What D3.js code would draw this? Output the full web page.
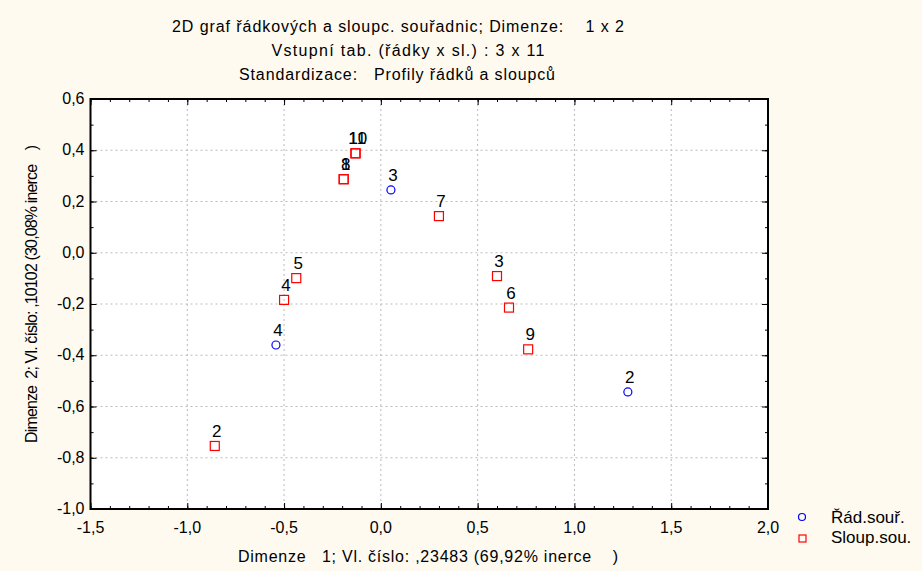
<!DOCTYPE html>
<html>
<head>
<meta charset="utf-8">
<script src="https://cdn.jsdelivr.net/npm/d3@7"></script>
<style>
  body { margin: 0; background: #fefaf0; }
  text { font-family: "Liberation Sans", Arial, sans-serif; }
</style>
</head>
<body>
<script>
// row coordinates (blue circles)
var rowLabels = ["2", "3", "4"];
var rowX = [1.276, 0.052, -0.542];
var rowY = [-0.543, 0.245, -0.360];

// column coordinates (red squares)
var colLabels = ["1", "2", "3", "4", "5", "6", "7", "8", "9", "10", "11"];
var colX = [-0.192, -0.858, 0.600, -0.500, -0.437, 0.662, 0.300, -0.192, 0.761, -0.130, -0.132];
var colY = [0.287, -0.754, -0.091, -0.184, -0.099, -0.214, 0.143, 0.287, -0.377, 0.388, 0.388];

var xTicks = [-1.5, -1.0, -0.5, 0.0, 0.5, 1.0, 1.5, 2.0];
var yTicks = [0.6, 0.4, 0.2, 0.0, -0.2, -0.4, -0.6, -0.8, -1.0];

var titleLines = [
  "2D graf řádkových a sloupc. souřadnic; Dimenze:    1 x 2",
  "Vstupní tab. (řádky x sl.) : 3 x 11",
  "Standardizace:   Profily řádků a sloupců"
];
var xTitle = "Dimenze   1; Vl. číslo: ,23483 (69,92% inerce    )";
var yTitle = "Dimenze  2; Vl. číslo: ,10102 (30,08% inerce    )";
var legendNames = ["Řád.souř.", "Sloup.sou."];

var width = 922, height = 571;
var mLeft = 90.5, mRight = 768, mTop = 99, mBottom = 509;

var svg = d3.select("body").append("svg")
  .attr("width", width)
  .attr("height", height);

var x = d3.scaleLinear().domain([-1.5, 2.0]).range([mLeft, mRight]);
var y = d3.scaleLinear().domain([-1.0, 0.6]).range([mBottom, mTop]);
var fmt = function(d) { return d3.format(".1f")(d).replace(".", ",").replace("−", "-"); };

// plot area
svg.append("rect")
  .attr("x", mLeft).attr("y", mTop)
  .attr("width", mRight - mLeft).attr("height", mBottom - mTop)
  .attr("fill", "#fff");

// grid
svg.append("g").selectAll("line")
  .data(xTicks.slice(1, -1))
  .enter().append("line")
  .attr("x1", function(d) { return x(d); }).attr("x2", function(d) { return x(d); })
  .attr("y1", mTop).attr("y2", mBottom)
  .attr("stroke", "#bbb").attr("stroke-dasharray", "2,3");
svg.append("g").selectAll("line")
  .data(yTicks.slice(1, -1))
  .enter().append("line")
  .attr("y1", function(d) { return y(d); }).attr("y2", function(d) { return y(d); })
  .attr("x1", mLeft).attr("x2", mRight)
  .attr("stroke", "#bbb").attr("stroke-dasharray", "2,3");

// axes with inside ticks
var xMinor = d3.range(-15, 21).map(function(i) { return i / 10; });
var yMinor = d3.range(-10, 7).map(function(i) { return i / 10; });

function tickAxis(axis, scale, vals, size, tr) {
  svg.append("g").attr("transform", tr)
    .call(axis(scale).tickValues(vals).tickSize(size).tickFormat(""))
    .call(function(g) { g.select(".domain").remove(); })
    .selectAll("line").attr("stroke", "#000");
}
tickAxis(d3.axisTop, x, xMinor, 3, "translate(0," + mBottom + ")");
tickAxis(d3.axisTop, x, xTicks, 6, "translate(0," + mBottom + ")");
tickAxis(d3.axisBottom, x, xMinor, 3, "translate(0," + mTop + ")");
tickAxis(d3.axisBottom, x, xTicks, 6, "translate(0," + mTop + ")");
tickAxis(d3.axisRight, y, yMinor, 3, "translate(" + mLeft + ",0)");
tickAxis(d3.axisRight, y, yTicks, 6, "translate(" + mLeft + ",0)");
tickAxis(d3.axisLeft, y, yMinor, 3, "translate(" + mRight + ",0)");
tickAxis(d3.axisLeft, y, yTicks, 6, "translate(" + mRight + ",0)");

// tick labels
svg.append("g").selectAll("text")
  .data(xTicks).enter().append("text")
  .attr("x", function(d) { return x(d); })
  .attr("y", mBottom + 24)
  .attr("text-anchor", "middle")
  .attr("font-size", 16)
  .text(fmt);
svg.append("g").selectAll("text")
  .data(yTicks).enter().append("text")
  .attr("x", mLeft - 6)
  .attr("y", function(d) { return y(d) + 5; })
  .attr("text-anchor", "end")
  .attr("font-size", 16)
  .text(fmt);

// frame
svg.append("rect")
  .attr("x", mLeft).attr("y", mTop)
  .attr("width", mRight - mLeft).attr("height", mBottom - mTop)
  .attr("fill", "none").attr("stroke", "#000").attr("stroke-width", 2);

// titles
var titleX = [398, 408, 397];
var titleLen = [452, 273, 316];
svg.append("g").selectAll("text")
  .data(titleLines).enter().append("text")
  .attr("x", function(d, i) { return titleX[i]; })
  .attr("y", function(d, i) { return 32 + i * 24; })
  .attr("text-anchor", "middle")
  .attr("font-size", 16)
  .attr("textLength", function(d, i) { return titleLen[i]; })
  .attr("lengthAdjust", "spacing")
  .style("white-space", "pre")
  .text(function(d) { return d; });

svg.append("text")
  .attr("x", 428).attr("y", 562)
  .attr("text-anchor", "middle")
  .attr("font-size", 16)
  .attr("textLength", 380).attr("lengthAdjust", "spacing")
  .style("white-space", "pre")
  .text(xTitle);
svg.append("text")
  .attr("transform", "translate(37,294) rotate(-90)")
  .attr("text-anchor", "middle")
  .attr("font-size", 16)
  .attr("textLength", 298).attr("lengthAdjust", "spacing")
  .style("white-space", "pre")
  .text(yTitle);

// points
var cols = colLabels.map(function(l, i) { return { label: l, x: colX[i], y: colY[i] }; });
var rows = rowLabels.map(function(l, i) { return { label: l, x: rowX[i], y: rowY[i] }; });

svg.append("g").selectAll("rect")
  .data(cols).enter().append("rect")
  .attr("x", function(d) { return x(d.x) - 4.5; })
  .attr("y", function(d) { return y(d.y) - 4.5; })
  .attr("width", 9).attr("height", 9)
  .attr("fill", "none").attr("stroke", "#f00").attr("stroke-width", 1.2);

svg.append("g").selectAll("circle")
  .data(rows).enter().append("circle")
  .attr("cx", function(d) { return x(d.x); })
  .attr("cy", function(d) { return y(d.y); })
  .attr("r", 4)
  .attr("fill", "none").attr("stroke", "#00f").attr("stroke-width", 1.2);

svg.append("g").selectAll("text")
  .data(cols.concat(rows)).enter().append("text")
  .attr("x", function(d) { return x(d.x) + 2; })
  .attr("y", function(d) { return y(d.y) - 9; })
  .attr("text-anchor", "middle")
  .attr("font-size", 17)
  .text(function(d) { return d.label; });

// legend
var leg = svg.append("g");
leg.append("circle").attr("cx", 802).attr("cy", 517).attr("r", 3.5)
  .attr("fill", "none").attr("stroke", "#00f").attr("stroke-width", 1.2);
leg.append("rect").attr("x", 799).attr("y", 535).attr("width", 7).attr("height", 7)
  .attr("fill", "none").attr("stroke", "#f00").attr("stroke-width", 1.2);
leg.selectAll("text")
  .data(legendNames).enter().append("text")
  .attr("x", 831)
  .attr("y", function(d, i) { return 523 + i * 20; })
  .attr("font-size", 17)
  .text(function(d) { return d; });
</script>
</body>
</html>
